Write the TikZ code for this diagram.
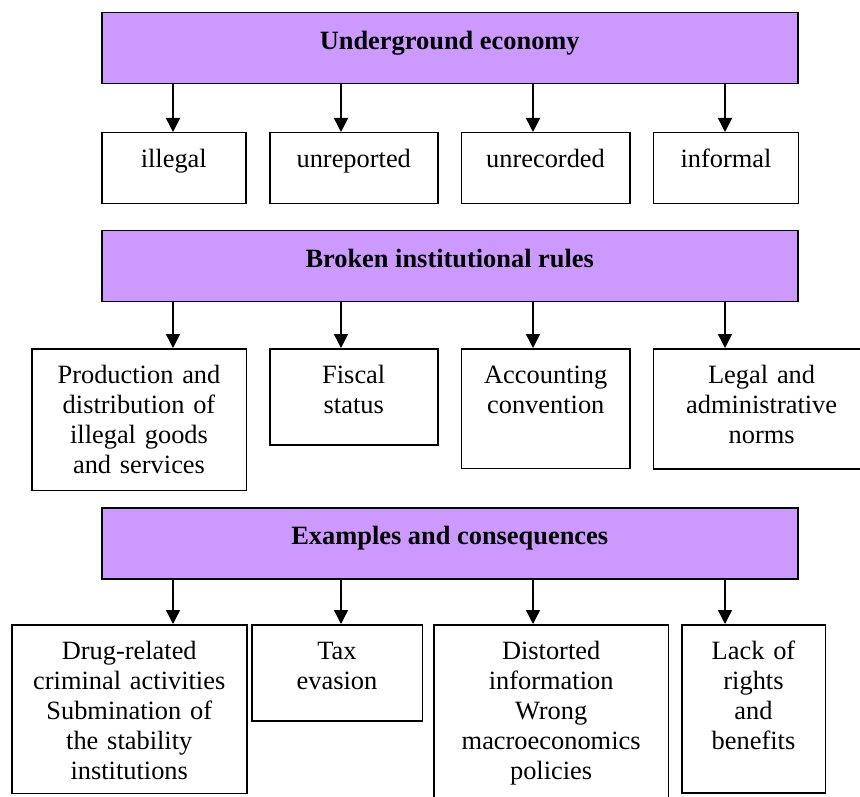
\documentclass[tikz,border=0pt]{standalone}
\usepackage{fontspec}
\setmainfont{Liberation Serif}
\usetikzlibrary{arrows.meta,positioning}
\definecolor{uViolet}{HTML}{CC99FF}
\newcommand{\boxfont}{\fontsize{26.4}{30}\selectfont}
\tikzset{
  >={Triangle[width=14pt,length=14pt]},
  band/.style ={rectangle,draw,line width=1.5pt,fill=uViolet,font=\boxfont\bfseries,anchor=north west,minimum width=696pt,inner sep=0pt,text height=37pt,text depth=34pt},
  item/.style ={rectangle,draw,line width=1.5pt,fill=white,align=center,anchor=north west,inner sep=0pt,text height=35pt},
  link/.style ={->,line width=1.5pt},
}
\begin{document}
\begin{tikzpicture}[x=1pt,y=-1pt,font=\boxfont]
  \path[use as bounding box,clip] (0,0) rectangle (860,797);
  % arrow columns
  \coordinate (c1) at (173,0);
  \coordinate (c2) at (341,0);
  \coordinate (c3) at (533,0);
  \coordinate (c4) at (725,0);

  \node[band] (under) at (101,12) {Underground economy};
  \node[band,below=145pt of under] (broken) {Broken institutional rules};
  \node[band,below=205pt of broken] (examp) {Examples and consequences};

  % first row
  \node[item,text width=144pt,text depth=36pt] (illeg) at (101,132) {illegal};
  \node[item,text width=168pt,text depth=36pt] (unrep) at (269,132) {unreported};
  \node[item,text width=168.5pt,text depth=36pt] (unrec) at (460.5,132) {unrecorded};
  \node[item,text width=145pt,text depth=36pt] (infor) at (652.7,132) {informal};

  % second row
  \node[item,text width=214.5pt,text depth=106.5pt] (prod) at (31,348)
        {Production and\\distribution of\\illegal goods\\and services};
  \node[item,text width=168pt,text depth=61.3pt] (fisc) at (269,348) {Fiscal\\status};
  \node[item,text width=168.4pt,text depth=84.7pt] (acct) at (460.8,348) {Accounting\\convention};
  \node[item,text width=216.3pt,text depth=85pt] (legal) at (652.7,348)
        {Legal and\\administrative\\norms};

  % third row
  \node[item,text width=235pt,text depth=133.5pt] (drug) at (11,624)
        {Drug-related\\criminal activities\\Submination of\\the stability\\institutions};
  \node[item,text width=170.5pt,text depth=61pt] (tax) at (251,624) {Tax\\evasion};
  \node[item,text width=234.2pt,text depth=156pt] (dist) at (433.3,624)
        {Distorted\\information\\Wrong\\macroeconomics\\policies};
  \node[item,text width=143.5pt,text depth=133pt] (lack) at (681,624)
        {Lack of\\rights\\and\\benefits};

  \draw[link] (under.south -| c1) -- (illeg.north -| c1);
  \draw[link] (under.south -| c2) -- (unrep.north -| c2);
  \draw[link] (under.south -| c3) -- (unrec.north -| c3);
  \draw[link] (under.south -| c4) -- (infor.north -| c4);
  \draw[link] (broken.south -| c1) -- (prod.north -| c1);
  \draw[link] (broken.south -| c2) -- (fisc.north -| c2);
  \draw[link] (broken.south -| c3) -- (acct.north -| c3);
  \draw[link] (broken.south -| c4) -- (legal.north -| c4);
  \draw[link] (examp.south -| c1) -- (drug.north -| c1);
  \draw[link] (examp.south -| c2) -- (tax.north -| c2);
  \draw[link] (examp.south -| c3) -- (dist.north -| c3);
  \draw[link] (examp.south -| c4) -- (lack.north -| c4);
\end{tikzpicture}
\end{document}
